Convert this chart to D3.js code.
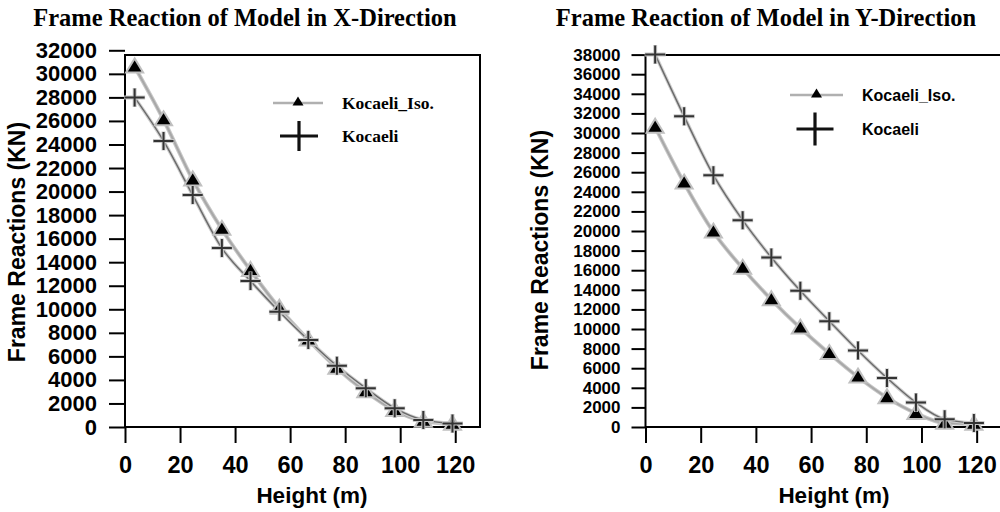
<!DOCTYPE html>
<html>
<head>
<meta charset="utf-8">
<script src="https://cdn.jsdelivr.net/npm/d3@7"></script>
<style>
  html, body { margin: 0; padding: 0; background: #fff; }
  svg { display: block; }
</style>
</head>
<body>
<svg id="chart" width="1000" height="512"></svg>
<script>
// ---- Data ----
const heights = [3.5, 14, 24.6, 35.2, 45.6, 56.1, 66.6, 77, 87.5, 98, 108.4, 119];
const xIso = [30600, 26100, 21000, 16800, 13300, 10100, 7400, 5000, 3000, 1400, 500, 250];
const xKoc = [28000, 24300, 19700, 15200, 12400, 9800, 7400, 5200, 3300, 1600, 600, 300];
const yIso = [30600, 24900, 19900, 16200, 13000, 10100, 7500, 5100, 3000, 1400, 400, 300];
const yKoc = [38000, 31700, 25700, 21100, 17300, 13900, 10800, 7800, 5000, 2500, 800, 400];
const xTicks = [0, 20, 40, 60, 80, 100, 120];
const leftYTicks = d3.range(0, 32001, 2000);
const rightYTicks = d3.range(0, 38001, 2000);
const seriesNames = ["Kocaeli_Iso.", "Kocaeli"];
const titles = ["Frame Reaction of Model in X-Direction", "Frame Reaction of Model in Y-Direction"];

const svg = d3.select("#chart");

function panel(opts) {
  const g = svg.append("g");
  const x = d3.scaleLinear().domain([0, 129]).range([opts.x0, opts.x1]);
  const y = d3.scaleLinear().domain([0, opts.yMax]).range([427, opts.yTopPx]);

  // title
  svg.append("text").attr("x", opts.titleX).attr("y", 26)
    .attr("text-anchor", "middle")
    .attr("font-family", "Liberation Serif, Times New Roman, serif")
    .attr("font-weight", "bold").attr("font-size", 24.5)
    .text(opts.title);

  // y axis
  const ya = g.append("g").attr("transform", `translate(${opts.x0},0)`)
    .call(d3.axisLeft(y).tickValues(opts.yTicks).tickSize(opts.yTickLen)
      .tickSizeOuter(0).tickPadding(opts.yPad).tickFormat(d3.format("d")));
  ya.select(".domain").remove();
  ya.selectAll(".tick line").attr("stroke", "#000").attr("stroke-width", 2);
  ya.selectAll(".tick text").attr("font-family", "Liberation Sans, Arial, sans-serif")
    .attr("font-weight", "bold").attr("font-size", opts.yFont).attr("fill", "#000");

  // x axis
  const xa = g.append("g").attr("transform", `translate(0,427)`)
    .call(d3.axisBottom(x).tickValues(xTicks).tickSize(16).tickSizeOuter(0).tickPadding(13));
  xa.select(".domain").remove();
  xa.selectAll(".tick line").attr("stroke", "#000").attr("stroke-width", 2);
  xa.selectAll(".tick text").attr("font-family", "Liberation Sans, Arial, sans-serif")
    .attr("font-weight", "bold").attr("font-size", 23.5).attr("fill", "#000");

  // frame
  const top = 55;
  g.append("path")
    .attr("d", `M${opts.x0},${top}V427H${opts.x1}V${top}Z`)
    .attr("fill", "none").attr("stroke", "#000").attr("stroke-width", 2);

  // axis titles
  g.append("text").attr("x", opts.xTitleX).attr("y", 503)
    .attr("text-anchor", "middle")
    .attr("font-family", "Liberation Sans, Arial, sans-serif")
    .attr("font-weight", "bold").attr("font-size", 22.5)
    .text("Height (m)");
  g.append("text")
    .attr("transform", `translate(${opts.yTitleX},${opts.yTitleY}) rotate(-90)`)
    .attr("text-anchor", "middle").attr("dy", "0.35em")
    .attr("font-family", "Liberation Sans, Arial, sans-serif")
    .attr("font-weight", "bold").attr("font-size", 23)
    .text("Frame Reactions (KN)");

  const line = d3.line().curve(d3.curveMonotoneX);
  const isoPts = heights.map((h, i) => [x(h), y(opts.iso[i])]);
  const kocPts = heights.map((h, i) => [x(h), y(opts.koc[i])]);

  // halo lines
  g.append("path").attr("d", line(isoPts)).attr("fill", "none")
    .attr("stroke", "#c8c8c8").attr("stroke-width", 4);
  g.append("path").attr("d", line(isoPts)).attr("fill", "none")
    .attr("stroke", "#a8a8a8").attr("stroke-width", 2);
  g.append("path").attr("d", line(kocPts)).attr("fill", "none")
    .attr("stroke", "#cfcfcf").attr("stroke-width", 3.5);
  g.append("path").attr("d", line(kocPts)).attr("fill", "none")
    .attr("stroke", "#6a6a6a").attr("stroke-width", 1.4);

  const tri = (cx, cy, w, h) => `M${cx},${cy - h * 0.6}L${cx + w / 2},${cy + h * 0.4}L${cx - w / 2},${cy + h * 0.4}Z`;
  const plus = (cx, cy, w, h) => `M${cx - w / 2},${cy}H${cx + w / 2}M${cx},${cy - h / 2}V${cy + h / 2}`;

  // triangles
  g.selectAll(".tri").data(isoPts).join("path")
    .attr("d", d => tri(d[0], d[1], 17, 14))
    .attr("fill", "#000").attr("stroke", "#c0c0c0").attr("stroke-width", 2);
  // plus markers
  g.selectAll(".plusH").data(kocPts).join("path")
    .attr("d", d => plus(d[0], d[1], 21, 19))
    .attr("fill", "none").attr("stroke", "#c8c8c8").attr("stroke-width", 4);
  g.selectAll(".plus").data(kocPts).join("path")
    .attr("d", d => plus(d[0], d[1], 20, 18))
    .attr("fill", "none").attr("stroke", "#333").attr("stroke-width", 2);

  // legend
  const L = opts.legend;
  g.append("line").attr("x1", L.lx1).attr("x2", L.lx2).attr("y1", L.y1).attr("y2", L.y1)
    .attr("stroke", "#b0b0b0").attr("stroke-width", 2.5);
  g.append("path").attr("d", tri((L.lx1 + L.lx2) / 2, L.y1 - 1, 11, 9)).attr("fill", "#000");
  g.append("path").attr("d", plus(L.px, L.y2, L.pw, L.ph))
    .attr("fill", "none").attr("stroke", "#111").attr("stroke-width", 3.2);
  [[seriesNames[0], L.y1], [seriesNames[1], L.y2]].forEach(([t, yy]) => {
    g.append("text").attr("x", L.tx).attr("y", yy).attr("dy", "0.35em")
      .attr("font-family", L.font).attr("font-weight", "bold").attr("font-size", L.fs)
      .text(t);
  });
}

panel({
  x0: 125, x1: 480, yMax: 32000, yTopPx: 50.3, yTicks: leftYTicks,
  yTickLen: 16, yPad: 12, yFont: 22,
  title: titles[0], titleX: 245, xTitleX: 312, yTitleX: 17, yTitleY: 242,
  iso: xIso, koc: xKoc,
  legend: { lx1: 273, lx2: 323, y1: 103, y2: 136, px: 299, pw: 38, ph: 30, tx: 342,
            font: "Liberation Serif, Times New Roman, serif", fs: 17.5 }
});

panel({
  x0: 645.5, x1: 1001.5, yMax: 38000, yTopPx: 54.6, yTicks: rightYTicks,
  yTickLen: 14, yPad: 11, yFont: 17,
  title: titles[1], titleX: 766, xTitleX: 834, yTitleX: 540, yTitleY: 250,
  iso: yIso, koc: yKoc,
  legend: { lx1: 790, lx2: 843, y1: 95, y2: 129, px: 815, pw: 37, ph: 33, tx: 862,
            font: "Liberation Sans, Arial, sans-serif", fs: 16 }
});
</script>
</body>
</html>
